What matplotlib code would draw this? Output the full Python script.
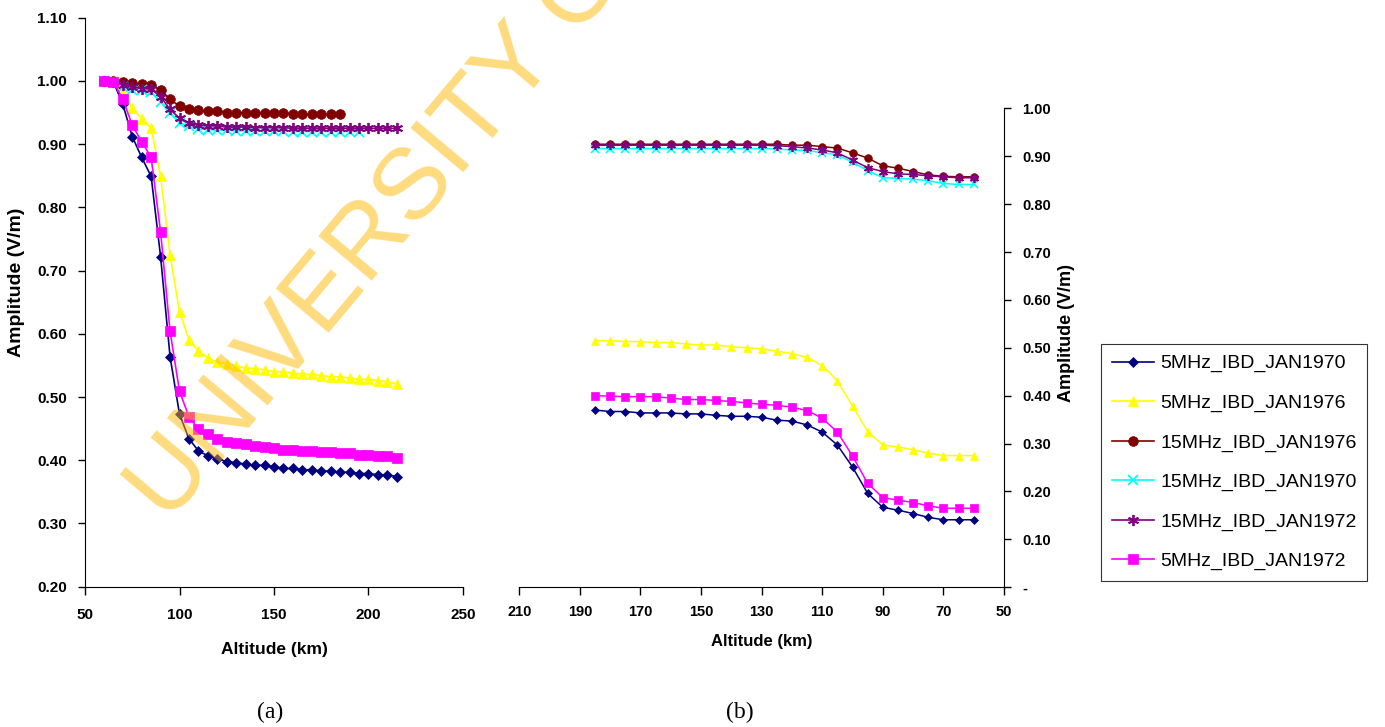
import matplotlib
matplotlib.use("Agg")
import matplotlib.pyplot as plt
from matplotlib.ticker import FuncFormatter

plt.rcParams['font.family'] = ['Liberation Sans', 'DejaVu Sans']
narrow = ['Liberation Sans Narrow', 'Liberation Sans', 'DejaVu Sans']

# ---- data ----
# panel (a): altitude going up
alt_a = [60, 65, 70, 75, 80, 85, 90, 95, 100, 105, 110, 115, 120, 125, 130, 135,
         140, 145, 150, 155, 160, 165, 170, 175, 180, 185, 190, 195, 200, 205, 210, 215]
alt_a_15_76 = alt_a[:26]   # 60..185
alt_a_15_70 = alt_a[:28]   # 60..195

blue70_a = [1.000, 0.999, 0.963, 0.912, 0.879, 0.849, 0.722, 0.564, 0.473, 0.434, 0.415,
            0.407, 0.402, 0.398, 0.396, 0.394, 0.392, 0.392, 0.390, 0.387, 0.387, 0.385,
            0.385, 0.383, 0.383, 0.381, 0.381, 0.379, 0.379, 0.377, 0.377, 0.374]
yellow76_a = [1.000, 0.998, 0.983, 0.957, 0.940, 0.925, 0.849, 0.725, 0.635, 0.591, 0.573,
              0.562, 0.555, 0.553, 0.549, 0.546, 0.545, 0.543, 0.540, 0.540, 0.538, 0.536,
              0.536, 0.534, 0.532, 0.532, 0.530, 0.528, 0.528, 0.526, 0.524, 0.521]
maroon76_a = [1.000, 1.000, 0.999, 0.996, 0.995, 0.994, 0.985, 0.971, 0.960, 0.956, 0.954,
              0.952, 0.952, 0.950, 0.950, 0.950, 0.950, 0.950, 0.950, 0.950, 0.947, 0.947,
              0.947, 0.947, 0.947, 0.947]
cyan70_a = [1.000, 0.998, 0.990, 0.986, 0.985, 0.982, 0.967, 0.949, 0.934, 0.928, 0.924,
            0.923, 0.922, 0.922, 0.921, 0.921, 0.921, 0.921, 0.921, 0.921, 0.920, 0.920,
            0.920, 0.920, 0.920, 0.920, 0.920, 0.920]
purple72_a = [1.000, 0.999, 0.994, 0.990, 0.988, 0.987, 0.975, 0.955, 0.941, 0.933, 0.930,
              0.929, 0.929, 0.927, 0.927, 0.927, 0.926, 0.926, 0.926, 0.926, 0.925, 0.925,
              0.925, 0.925, 0.925, 0.925, 0.925, 0.925, 0.925, 0.925, 0.925, 0.925]
pink72_a = [1.000, 0.999, 0.971, 0.930, 0.904, 0.879, 0.761, 0.604, 0.509, 0.469, 0.449,
            0.441, 0.433, 0.429, 0.428, 0.425, 0.423, 0.421, 0.419, 0.417, 0.417, 0.415,
            0.415, 0.413, 0.413, 0.411, 0.411, 0.409, 0.409, 0.407, 0.407, 0.404]

# panel (b): altitude going down
alt_b = [185, 180, 175, 170, 165, 160, 155, 150, 145, 140, 135, 130, 125,
         120, 115, 110, 105, 100, 95, 90, 85, 80, 75, 70, 65, 60]

blue70_b = [0.370, 0.367, 0.367, 0.364, 0.364, 0.364, 0.362, 0.362, 0.359, 0.357, 0.357,
            0.355, 0.349, 0.347, 0.339, 0.324, 0.297, 0.251, 0.196, 0.167, 0.161, 0.154,
            0.146, 0.141, 0.141, 0.141]
yellow76_b = [0.515, 0.515, 0.513, 0.513, 0.511, 0.511, 0.508, 0.506, 0.506, 0.502, 0.500,
              0.498, 0.493, 0.488, 0.480, 0.463, 0.431, 0.378, 0.325, 0.297, 0.293, 0.287,
              0.280, 0.275, 0.275, 0.275]
maroon76_b = [0.925, 0.925, 0.925, 0.925, 0.925, 0.925, 0.925, 0.925, 0.925, 0.925, 0.925,
              0.925, 0.925, 0.923, 0.923, 0.920, 0.917, 0.907, 0.896, 0.880, 0.875, 0.868,
              0.861, 0.858, 0.857, 0.857]
cyan70_b = [0.916, 0.916, 0.916, 0.916, 0.916, 0.916, 0.916, 0.916, 0.916, 0.916, 0.916,
            0.916, 0.915, 0.913, 0.912, 0.907, 0.903, 0.887, 0.870, 0.855, 0.854, 0.852,
            0.849, 0.843, 0.841, 0.841]
purple72_b = [0.923, 0.923, 0.923, 0.923, 0.923, 0.923, 0.923, 0.923, 0.923, 0.923, 0.923,
              0.923, 0.922, 0.920, 0.917, 0.913, 0.907, 0.892, 0.876, 0.868, 0.863, 0.862,
              0.859, 0.857, 0.855, 0.855]
pink72_b = [0.400, 0.399, 0.398, 0.398, 0.398, 0.395, 0.392, 0.392, 0.390, 0.388, 0.385,
            0.382, 0.380, 0.376, 0.369, 0.353, 0.324, 0.274, 0.217, 0.187, 0.182, 0.177,
            0.170, 0.165, 0.165, 0.165]

labels = ['5MHz_IBD_JAN1970', '5MHz_IBD_JAN1976', '15MHz_IBD_JAN1976',
          '15MHz_IBD_JAN1970', '15MHz_IBD_JAN1972', '5MHz_IBD_JAN1972']
colors = ['#000080', '#FFFF00', '#800000', '#00FFFF', '#800080', '#FF00FF']
markers = ['D', '^', 'o', 'x', (6, 2, 0), 's']
msize_a = [5.5, 7, 7, 7, 8, 6.5]
msize_b = [4.5, 6, 5.5, 6, 6.5, 5.5]

series_a = [(alt_a, blue70_a), (alt_a, yellow76_a), (alt_a_15_76, maroon76_a),
            (alt_a_15_70, cyan70_a), (alt_a, purple72_a), (alt_a, pink72_a)]
series_b = [blue70_b, yellow76_b, maroon76_b, cyan70_b, purple72_b, pink72_b]

W, H = 1385, 727
fig = plt.figure(figsize=(W / 100, H / 100), dpi=100)

# ---- panel (a) ----
ax1 = fig.add_axes([85 / W, 1 - 586.7 / H, 378 / W, 569 / H])
handles = []
for (x, y), c, m, ms, lab in zip(series_a, colors, markers, msize_a, labels):
    ln, = ax1.plot(x, y, color=c, marker=m, markersize=ms, lw=1.2,
                   markeredgewidth=1.3 if m in ('x', (6, 2, 0)) else 0.5,
                   markeredgecolor=c, label=lab)
    handles.append(ln)
ax1.set_xlim(50, 250)
ax1.set_ylim(0.2, 1.1)
ax1.set_xticks([50, 100, 150, 200, 250])
ax1.set_yticks([0.2, 0.3, 0.4, 0.5, 0.6, 0.7, 0.8, 0.9, 1.0, 1.1])
ax1.yaxis.set_major_formatter(FuncFormatter(lambda v, p: f'{v:.2f}'))
for s in ['top', 'right']:
    ax1.spines[s].set_visible(False)
ax1.tick_params(direction='out', length=5, width=1, labelsize=11)
ax1.tick_params(axis='x', pad=9, length=6)
ax1.tick_params(axis='y', pad=8)
for t in ax1.get_xticklabels() + ax1.get_yticklabels():
    t.set_fontweight('bold')
ax1.set_xlabel('Altitude (km)', fontsize=12.5, fontweight='bold', va='center')
ax1.xaxis.set_label_coords(0.5, -0.1095)
ax1.set_ylabel('Amplitude (V/m)', fontsize=14, fontweight='bold', va='center')
ax1.yaxis.set_label_coords(-0.18, 0.535)

# ---- panel (b) ----
ax2 = fig.add_axes([519.3 / W, 1 - 587.3 / H, 484.7 / W, 479 / H])
for y, c, m, ms in zip(series_b, colors, markers, msize_b):
    ax2.plot(alt_b, y, color=c, marker=m, markersize=ms, lw=1.1,
             markeredgewidth=1.2 if m in ('x', (6, 2, 0)) else 0.5,
             markeredgecolor=c)
ax2.set_xlim(210, 50)
ax2.set_ylim(0, 1.0)
ax2.set_xticks([210, 190, 170, 150, 130, 110, 90, 70, 50])
ax2.set_yticks([0, 0.1, 0.2, 0.3, 0.4, 0.5, 0.6, 0.7, 0.8, 0.9, 1.0])
ax2.yaxis.set_major_formatter(FuncFormatter(lambda v, p: '-' if abs(v) < 1e-9 else f'{v:.2f}'))
ax2.yaxis.tick_right()
ax2.yaxis.set_label_position('right')
for s in ['top', 'left']:
    ax2.spines[s].set_visible(False)
ax2.tick_params(direction='out', length=5, width=1, labelsize=10.5)
ax2.tick_params(axis='x', pad=7, length=6)
ax2.tick_params(axis='y', pad=8)
for t in ax2.get_xticklabels() + ax2.get_yticklabels():
    t.set_fontweight('bold')
    t.set_family(narrow)
ax2.set_xlabel('Altitude (km)', fontsize=12, fontweight='bold', family=narrow, va='center')
ax2.xaxis.set_label_coords(0.5007, -0.114)
ax2.set_ylabel('Amplitude (V/m)', fontsize=13, fontweight='bold', family=narrow,
               va='center', rotation=90)
ax2.yaxis.set_label_coords(1.128, 0.531)

# ---- legend ----
fig.legend(handles=handles, loc='upper left', bbox_to_anchor=(1101 / W, 1 - 344 / H),
           borderaxespad=0, fontsize=14, frameon=True, fancybox=False,
           edgecolor='black', handlelength=2.2, handletextpad=0.3,
           labelspacing=1.12, borderpad=0.55)
fig.legends[0].get_frame().set_linewidth(0.8)

# ---- panel captions ----
fig.text(270 / W, 1 - 712 / H, '(a)', family=['Liberation Serif', 'DejaVu Serif'],
         fontsize=17, ha='center', va='center')
fig.text(740 / W, 1 - 712 / H, '(b)', family=['Liberation Serif', 'DejaVu Serif'],
         fontsize=17, ha='center', va='center')

# ---- watermark ----
fig.text(148 / W, 1 - 508 / H, 'UNIVERSITY OF IBADAN', color='#FFB700', alpha=0.5,
         fontsize=73, rotation=50, rotation_mode='anchor', ha='left', va='center',
         zorder=10)

fig.savefig('out.png', dpi=100)
